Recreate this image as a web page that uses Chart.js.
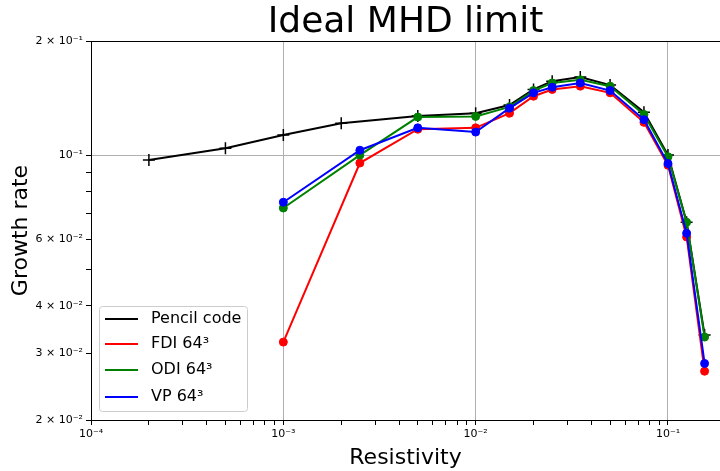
<!DOCTYPE html>
<html>
<head>
<meta charset="utf-8">
<script src="https://cdn.jsdelivr.net/npm/chart.js@4/dist/chart.umd.min.js"></script>
<style>
  body { margin: 0; background: #fff; }
  canvas { display: block; }
</style>
</head>
<body>
<canvas id="growthChart" width="720" height="471"></canvas>
<script>
// resistivity values (x) and growth rates (y)
const etaPencil = [2e-4, 5e-4, 1e-3, 2e-3, 5e-3, 1e-2, 1.5e-2, 2e-2, 2.5e-2, 3.5e-2, 5e-2, 7.5e-2, 0.1, 0.125, 0.155];
const growthPencil = [0.097, 0.1043, 0.113, 0.1214, 0.1268, 0.129, 0.1355, 0.149, 0.1567, 0.1606, 0.153, 0.1298, 0.1, 0.0665, 0.0335];

const etaSim = [1e-3, 2.5e-3, 5e-3, 1e-2, 1.5e-2, 2e-2, 2.5e-2, 3.5e-2, 5e-2, 7.5e-2, 0.1, 0.125, 0.155];
const growthFDI = [0.0321, 0.0953, 0.117, 0.118, 0.129, 0.143, 0.149, 0.152, 0.146, 0.122, 0.094, 0.0608, 0.0269];
const growthODI = [0.0725, 0.1, 0.126, 0.1265, 0.134, 0.148, 0.155, 0.158, 0.152, 0.128, 0.099, 0.0665, 0.0331];
const growthVP = [0.0751, 0.103, 0.118, 0.115, 0.133, 0.146, 0.151, 0.155, 0.148, 0.124, 0.095, 0.0622, 0.0282];

// tick positions
const xTicks = [1e-4, 2e-4, 3e-4, 4e-4, 5e-4, 6e-4, 7e-4, 8e-4, 9e-4,
                1e-3, 2e-3, 3e-3, 4e-3, 5e-3, 6e-3, 7e-3, 8e-3, 9e-3,
                1e-2, 2e-2, 3e-2, 4e-2, 5e-2, 6e-2, 7e-2, 8e-2, 9e-2, 0.1];
const xLabelTicks = [1e-4, 1e-3, 1e-2, 0.1];
const yTicks = [0.02, 0.03, 0.04, 0.05, 0.06, 0.07, 0.08, 0.09, 0.1, 0.2];
const yLabelTicks = [0.02, 0.03, 0.04, 0.06, 0.1, 0.2];
const xGridTicks = [1e-3, 1e-2, 0.1];
const yGridTicks = [0.1];

const toPoints = (xs, ys) => xs.map((x, i) => ({x: x, y: ys[i]}));
const same = (a, b) => Math.abs(a / b - 1) < 1e-6;
const inList = (v, list) => list.some(t => same(v, t));

const supMap = {'-': '⁻', '0': '⁰', '1': '¹', '2': '²', '3': '³', '4': '⁴', '5': '⁵', '6': '⁶', '7': '⁷', '8': '⁸', '9': '⁹'};
function sciLabel(v) {
    const e = Math.floor(Math.log10(v) + 1e-9);
    const m = Math.round(v / Math.pow(10, e));
    const pow = '10' + String(e).split('').map(c => supMap[c]).join('');
    return m === 1 ? pow : m + ' × ' + pow;
}

// legend drawn inside the plot, lower left
const innerLegend = {
    id: 'innerLegend',
    afterDatasetsDraw(chart) {
        const ctx = chart.ctx;
        const x0 = 99.5, y0 = 306.5, w = 148, h = 105;
        ctx.save();
        ctx.beginPath();
        ctx.roundRect(x0, y0, w, h, 3);
        ctx.fillStyle = 'rgba(255,255,255,0.8)';
        ctx.fill();
        ctx.strokeStyle = '#cccccc';
        ctx.lineWidth = 1;
        ctx.stroke();
        ctx.font = '16px "DejaVu Sans"';
        ctx.textBaseline = 'middle';
        ctx.fillStyle = '#000';
        const rows = [319, 344, 370, 397];
        chart.data.datasets.forEach((ds, i) => {
            ctx.beginPath();
            ctx.moveTo(105, rows[i]);
            ctx.lineTo(138, rows[i]);
            ctx.strokeStyle = ds.borderColor;
            ctx.lineWidth = 2;
            ctx.stroke();
            ctx.fillText(ds.label, 151, rows[i]);
        });
        ctx.restore();
    }
};

const ctx = document.getElementById('growthChart');
const growthChart = new Chart(ctx, {
    type: 'line',
    data: {
        datasets: [
            {
                label: 'Pencil code',
                data: toPoints(etaPencil, growthPencil),
                borderColor: '#000000',
                pointStyle: 'cross',
                pointRadius: 6,
                pointBorderWidth: 1.5,
                pointBorderColor: '#000000',
                order: 4
            },
            {
                label: 'FDI 64³',
                data: toPoints(etaSim, growthFDI),
                borderColor: '#ff0000',
                pointBackgroundColor: '#ff0000',
                pointBorderColor: '#ff0000',
                order: 3
            },
            {
                label: 'ODI 64³',
                data: toPoints(etaSim, growthODI),
                borderColor: '#008000',
                pointBackgroundColor: '#008000',
                pointBorderColor: '#008000',
                order: 2
            },
            {
                label: 'VP 64³',
                data: toPoints(etaSim, growthVP),
                borderColor: '#0000ff',
                pointBackgroundColor: '#0000ff',
                pointBorderColor: '#0000ff',
                order: 1
            }
        ]
    },
    options: {
        responsive: false,
        animation: false,
        devicePixelRatio: 1,
        layout: { padding: 0, autoPadding: false },
        elements: {
            line: { borderWidth: 2, tension: 0 },
            point: { radius: 4, borderWidth: 1, hoverRadius: 4 }
        },
        scales: {
            x: {
                type: 'logarithmic',
                min: 1e-4,
                max: 0.1864,
                afterBuildTicks: (scale) => { scale.ticks = xTicks.map(v => ({value: v})); },
                afterFit: (scale) => {
                    scale.height = 51;
                    scale.paddingLeft = 0;
                    scale.paddingRight = 0;
                },
                ticks: {
                    autoSkip: false,
                    maxRotation: 0,
                    padding: 3,
                    color: '#000',
                    font: { family: 'DejaVu Sans', size: 11 },
                    callback: (v) => inList(v, xLabelTicks) ? sciLabel(v) : ''
                },
                grid: {
                    color: (c) => c.tick && inList(c.tick.value, xGridTicks) ? '#b0b0b0' : 'rgba(0,0,0,0)',
                    tickColor: '#000',
                    tickLength: 5,
                    lineWidth: 1
                },
                border: { color: '#000', width: 1 },
                title: {
                    display: true,
                    text: 'Resistivity',
                    color: '#000',
                    font: { family: 'DejaVu Sans', size: 22 },
                    padding: { top: 0, bottom: 0 }
                }
            },
            y: {
                type: 'logarithmic',
                min: 0.02,
                max: 0.2,
                afterBuildTicks: (scale) => { scale.ticks = yTicks.map(v => ({value: v})); },
                afterFit: (scale) => {
                    scale.width = 91;
                    scale.paddingTop = 0;
                    scale.paddingBottom = 0;
                },
                ticks: {
                    autoSkip: false,
                    padding: 3,
                    color: '#000',
                    font: { family: 'DejaVu Sans', size: 11 },
                    callback: (v) => inList(v, yLabelTicks) ? sciLabel(v) : ''
                },
                grid: {
                    color: (c) => {
                        if (!c.tick) return 'rgba(0,0,0,0)';
                        if (same(c.tick.value, 0.2)) return '#000';
                        return inList(c.tick.value, yGridTicks) ? '#b0b0b0' : 'rgba(0,0,0,0)';
                    },
                    tickColor: '#000',
                    tickLength: 5,
                    lineWidth: 1
                },
                border: { color: '#000', width: 1 },
                title: {
                    display: true,
                    text: 'Growth rate',
                    color: '#000',
                    font: { family: 'DejaVu Sans', size: 22 },
                    padding: { top: 8, bottom: 0 }
                }
            }
        },
        plugins: {
            legend: { display: false },
            tooltip: { enabled: false },
            title: {
                display: true,
                text: 'Ideal MHD limit',
                fullSize: false,
                color: '#000',
                font: { family: 'DejaVu Sans', size: 36, weight: 'normal', lineHeight: 1 },
                padding: { top: 5, bottom: 0 }
            }
        }
    },
    plugins: [innerLegend]
});
</script>
</body>
</html>
